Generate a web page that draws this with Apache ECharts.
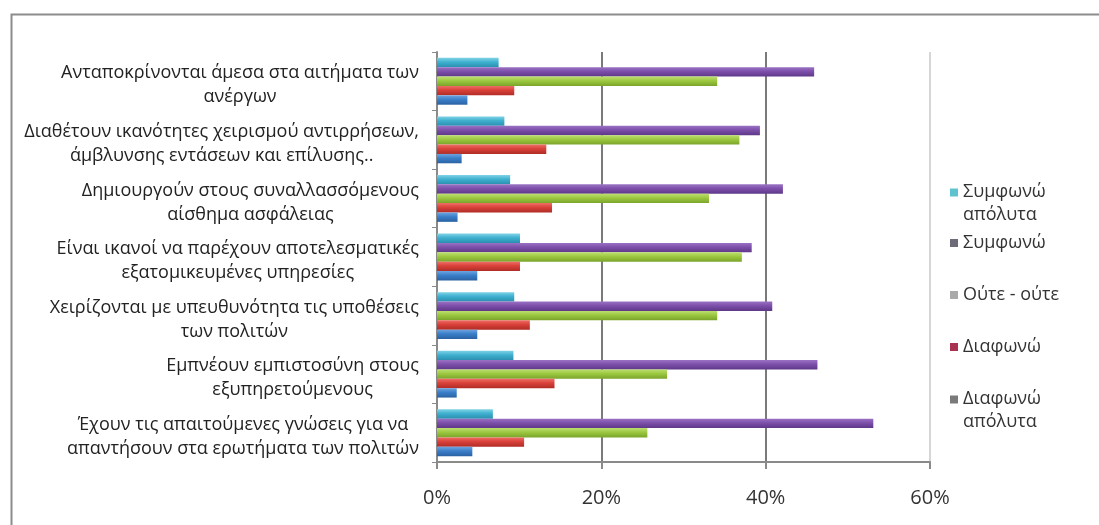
<!DOCTYPE html>
<html>
<head>
<meta charset="utf-8">
<script src="https://cdn.jsdelivr.net/npm/echarts@6/dist/echarts.min.js"></script>
<style>
  html, body { margin: 0; padding: 0; background: #ffffff; }
  #chart { width: 1099px; height: 525px; }
</style>
</head>
<body>
<div id="chart"></div>
<script>
// Statements about the staff, listed top to bottom
const categories = [
  'Ανταποκρίνονται άμεσα στα αιτήματα των\nανέργων',
  'Διαθέτουν ικανότητες χειρισμού αντιρρήσεων,\nάμβλυνσης εντάσεων και επίλυσης..',
  'Δημιουργούν στους συναλλασσόμενους\nαίσθημα ασφάλειας',
  'Είναι ικανοί να παρέχουν αποτελεσματικές\nεξατομικευμένες υπηρεσίες',
  'Χειρίζονται με υπευθυνότητα τις υποθέσεις\nτων πολιτών',
  'Εμπνέουν εμπιστοσύνη στους\nεξυπηρετούμενους',
  'Έχουν τις απαιτούμενες γνώσεις για να\nαπαντήσουν στα ερωτήματα των πολιτών'
];

const seriesNames = ['Συμφωνώ απόλυτα', 'Συμφωνώ', 'Ούτε - ούτε', 'Διαφωνώ', 'Διαφωνώ απόλυτα'];

// Share of answers (%) per statement
const agreeFully    = [7.5, 8.2, 8.9, 10.1, 9.4, 9.3, 6.8];
const agree         = [45.9, 39.3, 42.1, 38.3, 40.8, 46.3, 53.1];
const neutral       = [34.1, 36.8, 33.1, 37.1, 34.1, 28.0, 25.6];
const disagree      = [9.4, 13.3, 14.0, 10.1, 11.3, 14.3, 10.6];
const disagreeFully = [3.7, 3.0, 2.5, 4.9, 4.9, 2.4, 4.3];

const xMin = 0, xMax = 60, xStep = 20;

const FONT = '"Open Sans", "Noto Sans", sans-serif';

const seriesValues = [agreeFully, agree, neutral, disagree, disagreeFully];
const barColors = [
  ['#7fd3e6', '#3fb0cf', '#2a8fb0'],
  ['#9a72c4', '#7d4faa', '#5e3888'],
  ['#bde070', '#9cc840', '#7aa42a'],
  ['#ee6e66', '#d9413a', '#b02c26'],
  ['#6ea4e0', '#3a7fc9', '#2a62a3']
];
const legendColors = ['#5ec3cf', '#6c6c78', '#a9a9a9', '#a8324f', '#7a7a7a'];

function shade(c) {
  return new echarts.graphic.LinearGradient(0, 0, 0, 1, [
    { offset: 0, color: c[0] },
    { offset: 0.45, color: c[1] },
    { offset: 1, color: c[2] }
  ]);
}

// Legend entries ending in "απόλυτα" wrap onto a second line; the second line
// is given a tiny line box so the marker stays beside the first line.
function legendLabel(name) {
  const cut = name.indexOf(' απόλυτα');
  if (cut < 0) return '{a|' + name + '}';
  return '{a|' + name.slice(0, cut) + '}\n{b|' + name.slice(cut + 1) + '}';
}

function legendBlock(names, top) {
  return {
    orient: 'vertical',
    left: 945, top: top,
    itemWidth: 8, itemHeight: 8, itemGap: 34,
    icon: 'rect',
    formatter: legendLabel,
    textStyle: {
      fontFamily: FONT, fontSize: 18, color: '#333',
      rich: {
        a: { fontFamily: FONT, fontSize: 18, lineHeight: 23, color: '#333' },
        b: { fontFamily: FONT, fontSize: 18, lineHeight: 1, padding: [22, 0, 0, 0], color: '#333' }
      }
    },
    data: names.map(n => ({ name: n, itemStyle: { color: legendColors[seriesNames.indexOf(n)] } }))
  };
}

const chart = echarts.init(document.getElementById('chart'), null, { renderer: 'canvas' });

chart.setOption({
  backgroundColor: '#ffffff',
  animation: false,
  graphic: [{
    type: 'rect',
    left: 9, top: 12,
    shape: { width: 1200, height: 600 },
    style: { fill: 'none', stroke: '#8c8c8c', lineWidth: 2 },
    silent: true
  }],
  grid: { left: 437, right: 169, top: 52, bottom: 63, containLabel: false },
  legend: [
    legendBlock(seriesNames.slice(0, 1), 178),
    legendBlock(seriesNames.slice(1), 229)
  ],
  xAxis: {
    type: 'value',
    min: xMin, max: xMax, interval: xStep,
    axisLine: { show: true, lineStyle: { color: '#8a8a8a', width: 2 } },
    axisTick: { show: true, length: 7, lineStyle: { color: '#8a8a8a', width: 2 } },
    axisLabel: {
      formatter: '{value}%', fontFamily: FONT, fontSize: 20, color: '#333', margin: 26
    },
    splitLine: {
      show: true,
      lineStyle: { color: ['#8a8a8a', '#7a7a7a', '#7a7a7a', '#d6d6d6'], width: 2 }
    }
  },
  yAxis: {
    type: 'category',
    inverse: true,
    data: categories,
    axisLine: { show: true, lineStyle: { color: '#8a8a8a', width: 2 } },
    axisTick: { show: true, length: 5, lineStyle: { color: '#8a8a8a', width: 1 } },
    axisLabel: {
      margin: 18,
      padding: [8, 0, 0, 0],
      formatter: v => v.split('\n').map(s => '{c|' + s + '}').join('\n'),
      rich: {
        c: { align: 'center', fontFamily: FONT, fontSize: 18, lineHeight: 24, color: '#222' }
      }
    }
  },
  series: seriesNames.map((n, i) => ({
    name: n,
    type: 'bar',
    data: seriesValues[i],
    barGap: '0%',
    barCategoryGap: '20%',
    itemStyle: { color: shade(barColors[i]) }
  }))
});
</script>
</body>
</html>
